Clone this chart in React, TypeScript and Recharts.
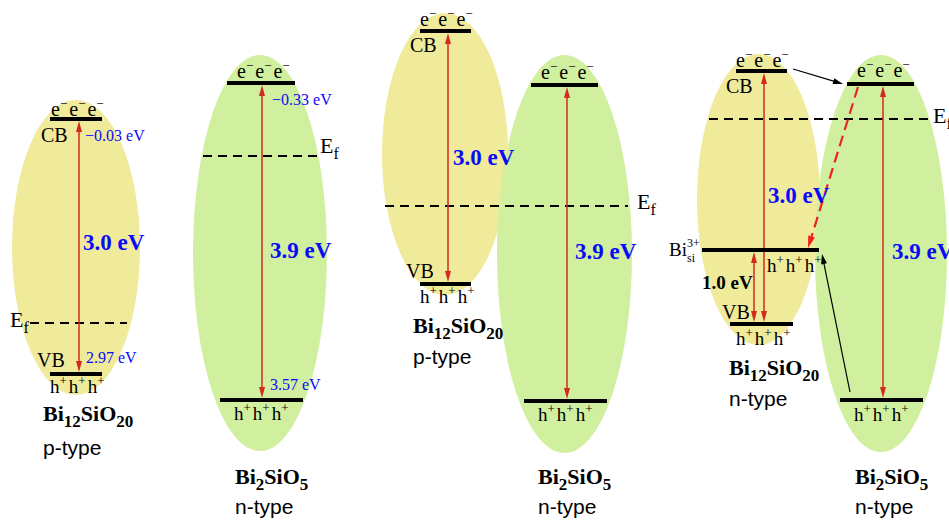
import React from 'react';
import { ComposedChart, XAxis, YAxis, ReferenceArea, ReferenceLine, Scatter } from 'recharts';

const W = 949;
const H = 520;

// Diagram coordinate system: x across the figure, y downward (energy axis).
// Band regions (ellipses) of each semiconductor
const bandRegions = [
  { x1: 12, x2: 140, y1: 100, y2: 395, material: 'BSO' },
  { x1: 193, x2: 327, y1: 55, y2: 451, material: 'BS' },
  { x1: 382, x2: 508, y1: 13, y2: 295, material: 'BSO' },
  { x1: 497, x2: 632, y1: 55, y2: 453, material: 'BS' },
  { x1: 697, x2: 820, y1: 54, y2: 345, material: 'BSO' },
  { x1: 815, x2: 947, y1: 55, y2: 452, material: 'BS' },
];

// CB / VB / defect energy levels
const bandLevels = [
  { x1: 50, x2: 102, y: 119 },
  { x1: 50, x2: 102, y: 374 },
  { x1: 227, x2: 295, y: 83 },
  { x1: 220, x2: 303, y: 400 },
  { x1: 420, x2: 471, y: 31 },
  { x1: 420, x2: 471, y: 284 },
  { x1: 531, x2: 598, y: 85 },
  { x1: 524, x2: 607, y: 401 },
  { x1: 736, x2: 787, y: 71 },
  { x1: 702, x2: 819, y: 250 },
  { x1: 730, x2: 793, y: 324 },
  { x1: 847, x2: 914, y: 84 },
  { x1: 840, x2: 923, y: 400 },
];

// Fermi levels
const fermiLevels = [
  { x1: 30, x2: 127, y: 323 },
  { x1: 203, x2: 318, y: 156 },
  { x1: 385, x2: 628, y: 206 },
  { x1: 709, x2: 932, y: 119 },
];

// Band-gap arrows (double headed)
const gapArrows = [
  { x: 79, y1: 121, y2: 372 },
  { x: 262, y1: 85, y2: 398 },
  { x: 448, y1: 33, y2: 282 },
  { x: 567, y1: 87, y2: 399 },
  { x: 764, y1: 73, y2: 322 },
  { x: 754, y1: 252, y2: 322 },
  { x: 883, y1: 86, y2: 398 },
];

// Charge transfer arrows (single headed)
const transferArrows = [
  { x1: 793, y1: 69, x2: 843, y2: 84, kind: 'electron' },
  { x1: 850, y1: 392, x2: 822, y2: 254, kind: 'electron' },
  { x1: 858, y1: 87, x2: 808, y2: 248, kind: 'recombination' },
];

// Text labels
const carrierLabels = [
  { x: 51, y: 116, text: 'e−e−e−' },
  { x: 237, y: 78, text: 'e−e−e−' },
  { x: 420, y: 26, text: 'e−e−e−' },
  { x: 541, y: 79, text: 'e−e−e−' },
  { x: 736, y: 67, text: 'e−e−e−' },
  { x: 857, y: 77, text: 'e−e−e−' },
  { x: 50, y: 393, text: 'h+h+h+' },
  { x: 234, y: 420, text: 'h+h+h+' },
  { x: 420, y: 303, text: 'h+h+h+' },
  { x: 538, y: 421, text: 'h+h+h+' },
  { x: 767, y: 272, text: 'h+h+h+' },
  { x: 736, y: 345, text: 'h+h+h+' },
  { x: 854, y: 421, text: 'h+h+h+' },
];

const bandNameLabels = [
  { x: 41, y: 142, text: 'CB' },
  { x: 37, y: 367, text: 'VB' },
  { x: 410, y: 52, text: 'CB' },
  { x: 406, y: 278, text: 'VB' },
  { x: 726, y: 93, text: 'CB' },
  { x: 722, y: 319, text: 'VB' },
];

const edgeValueLabels = [
  { x: 85, y: 141, text: '−0.03 eV' },
  { x: 86, y: 363, text: '2.97 eV' },
  { x: 272, y: 105, text: '−0.33 eV' },
  { x: 270, y: 390, text: '3.57 eV' },
];

const gapLabels = [
  { x: 83, y: 250, text: '3.0 eV', color: 'blue' },
  { x: 270, y: 258, text: '3.9 eV', color: 'blue' },
  { x: 453, y: 165, text: '3.0 eV', color: 'blue' },
  { x: 575, y: 259, text: '3.9 eV', color: 'blue' },
  { x: 768, y: 203, text: '3.0 eV', color: 'blue' },
  { x: 892, y: 259, text: '3.9 eV', color: 'blue' },
  { x: 702, y: 289, text: '1.0 eV', color: 'black' },
];

const fermiLabels = [
  { x: 10, y: 327 },
  { x: 320, y: 153 },
  { x: 637, y: 209 },
  { x: 933, y: 123 },
];

const materialLabels = [
  { x: 43, y: 421, text: 'Bi12SiO20' },
  { x: 235, y: 484, text: 'Bi2SiO5' },
  { x: 413, y: 333, text: 'Bi12SiO20' },
  { x: 538, y: 484, text: 'Bi2SiO5' },
  { x: 729, y: 375, text: 'Bi12SiO20' },
  { x: 855, y: 484, text: 'Bi2SiO5' },
];

const typeLabels = [
  { x: 43, y: 455, text: 'p-type' },
  { x: 235, y: 514, text: 'n-type' },
  { x: 413, y: 364, text: 'p-type' },
  { x: 538, y: 514, text: 'n-type' },
  { x: 729, y: 406, text: 'n-type' },
  { x: 855, y: 514, text: 'n-type' },
];

const defectLabels = [{ x: 669, y: 256, base: 'Bi', sup: '3+', sub: 'si' }];

// ---------- styles ----------
const SERIF = '"Liberation Serif", "Times New Roman", serif';
const SANS = '"Liberation Sans", Arial, sans-serif';
const FILL = { BSO: '#f0ea9b', BS: '#d0f09f' } as Record<string, string>;
const RED = '#d32a1e';
const DASH_RED = '#ee2222';
const BLUE = '#0a0af8';

type Run = { t: string; size: number; shift?: number; dx?: number };

function RunText(props: { x: number; y: number; runs: Run[]; fill?: string; weight?: string | number; family?: string }) {
  let cur = 0;
  return (
    <text x={props.x} y={props.y} fill={props.fill || '#000'} fontFamily={props.family || SERIF} fontWeight={props.weight || 'normal'}>
      {props.runs.map((r, i) => {
        const s = r.shift || 0;
        const dy = s - cur;
        cur = s;
        return (
          <tspan key={i} fontSize={r.size} dy={dy || undefined} dx={r.dx || undefined}>
            {r.t}
          </tspan>
        );
      })}
    </text>
  );
}

function carrierRuns(s: string): Run[] {
  const out: Run[] = [];
  const chars = Array.from(s);
  chars.forEach((c, i) => {
    if (c === '−' || c === '+') out.push({ t: c, size: 13, shift: -8 });
    else out.push({ t: c, size: c === 'e' ? 20 : 19, shift: 0, dx: i > 0 ? 2 : 0 });
  });
  return out;
}

function formulaRuns(s: string): Run[] {
  return s
    .split(/(\d+)/)
    .filter((p) => p.length > 0)
    .map((p) => (/^\d+$/.test(p) ? { t: p, size: 17, shift: 6 } : { t: p, size: 22, shift: 0 }));
}

const pt = (p: any) => ({ cx: p.cx as number, cy: p.cy as number, d: (p.payload || p) as any });

function arrowHead(tx: number, ty: number, fx: number, fy: number, len: number, half: number, color: string, key: string) {
  const dx = tx - fx;
  const dy = ty - fy;
  const d = Math.hypot(dx, dy) || 1;
  const ux = dx / d;
  const uy = dy / d;
  const bx = tx - ux * len;
  const by = ty - uy * len;
  const px = -uy * half;
  const py = ux * half;
  return <polygon key={key} points={`${tx},${ty} ${bx + px},${by + py} ${bx - px},${by - py}`} fill={color} />;
}

function makeArrowShape(opts: { both: boolean; color: string; width: number; dash?: string; len: number; half: number }) {
  return (p: any) => {
    const { x1, y1, x2, y2 } = p;
    const d = Math.hypot(x2 - x1, y2 - y1) || 1;
    const ux = (x2 - x1) / d;
    const uy = (y2 - y1) / d;
    const sx = opts.both ? x1 + ux * (opts.len - 1) : x1;
    const sy = opts.both ? y1 + uy * (opts.len - 1) : y1;
    const ex = x2 - ux * (opts.len - 1);
    const ey = y2 - uy * (opts.len - 1);
    return (
      <g>
        <line x1={sx} y1={sy} x2={ex} y2={ey} stroke={opts.color} strokeWidth={opts.width} strokeDasharray={opts.dash} />
        {arrowHead(x2, y2, x1, y1, opts.len, opts.half, opts.color, 'e')}
        {opts.both ? arrowHead(x1, y1, x2, y2, opts.len, opts.half, opts.color, 's') : null}
      </g>
    );
  };
}

const ellipseShape = (fill: string) => (p: any) => (
  <ellipse cx={p.x + p.width / 2} cy={p.y + p.height / 2} rx={p.width / 2} ry={p.height / 2} fill={fill} stroke="none" />
);

const gapArrowShape = makeArrowShape({ both: true, color: RED, width: 1.5, len: 11, half: 3 });
const electronArrowShape = makeArrowShape({ both: false, color: '#000', width: 1.2, len: 10, half: 3 });
const recombArrowShape = makeArrowShape({ both: false, color: DASH_RED, width: 2.2, dash: '11 6', len: 12, half: 3.5 });

export default function App() {
  return (
    <div style={{ position: 'absolute', left: 0, top: 0, width: W, height: H, background: '#fff' }}>
      <ComposedChart width={W} height={H} margin={{ top: 0, right: 0, bottom: 0, left: 0 }}>
        <XAxis dataKey="x" type="number" domain={[0, W]} hide allowDataOverflow />
        <YAxis dataKey="y" type="number" domain={[0, H]} reversed hide allowDataOverflow />

        {bandRegions.map((r, i) => (
          <ReferenceArea key={'reg' + i} x1={r.x1} x2={r.x2} y1={r.y1} y2={r.y2} ifOverflow="visible" shape={ellipseShape(FILL[r.material])} />
        ))}

        {fermiLevels.map((f, i) => (
          <ReferenceLine
            key={'ef' + i}
            segment={[{ x: f.x1, y: f.y }, { x: f.x2, y: f.y }]}
            stroke="#000"
            strokeWidth={2}
            strokeDasharray="9 6"
            ifOverflow="visible"
          />
        ))}

        {gapArrows.map((a, i) => (
          <ReferenceLine key={'ga' + i} segment={[{ x: a.x, y: a.y1 }, { x: a.x, y: a.y2 }]} ifOverflow="visible" shape={gapArrowShape} />
        ))}

        {bandLevels.map((l, i) => (
          <ReferenceLine key={'lv' + i} segment={[{ x: l.x1, y: l.y }, { x: l.x2, y: l.y }]} stroke="#000" strokeWidth={4} ifOverflow="visible" />
        ))}

        {transferArrows.map((a, i) => (
          <ReferenceLine
            key={'ta' + i}
            segment={[{ x: a.x1, y: a.y1 }, { x: a.x2, y: a.y2 }]}
            ifOverflow="visible"
            shape={a.kind === 'electron' ? electronArrowShape : recombArrowShape}
          />
        ))}

        <Scatter
          data={carrierLabels}
          isAnimationActive={false}
          shape={(p: any) => {
            const { cx, cy, d } = pt(p);
            return <RunText x={cx} y={cy} runs={carrierRuns(d.text)} />;
          }}
        />
        <Scatter
          data={bandNameLabels}
          isAnimationActive={false}
          shape={(p: any) => {
            const { cx, cy, d } = pt(p);
            return (
              <text x={cx} y={cy} fontFamily={SERIF} fontSize={20} fill="#000">
                {d.text}
              </text>
            );
          }}
        />
        <Scatter
          data={edgeValueLabels}
          isAnimationActive={false}
          shape={(p: any) => {
            const { cx, cy, d } = pt(p);
            return (
              <text x={cx} y={cy} fontFamily={SERIF} fontSize={16} fill={BLUE}>
                {d.text}
              </text>
            );
          }}
        />
        <Scatter
          data={gapLabels}
          isAnimationActive={false}
          shape={(p: any) => {
            const { cx, cy, d } = pt(p);
            const blue = d.color === 'blue';
            return (
              <text x={cx} y={cy} fontFamily={SERIF} fontWeight="bold" fontSize={blue ? 23 : 19} fill={blue ? BLUE : '#000'}>
                {d.text}
              </text>
            );
          }}
        />
        <Scatter
          data={fermiLabels}
          isAnimationActive={false}
          shape={(p: any) => {
            const { cx, cy } = pt(p);
            return <RunText x={cx} y={cy} runs={[{ t: 'E', size: 22 }, { t: 'f', size: 16, shift: 6 }]} />;
          }}
        />
        <Scatter
          data={materialLabels}
          isAnimationActive={false}
          shape={(p: any) => {
            const { cx, cy, d } = pt(p);
            return <RunText x={cx} y={cy} runs={formulaRuns(d.text)} weight="bold" />;
          }}
        />
        <Scatter
          data={typeLabels}
          isAnimationActive={false}
          shape={(p: any) => {
            const { cx, cy, d } = pt(p);
            return (
              <text x={cx} y={cy} fontFamily={SANS} fontSize={21} fill="#000">
                {d.text}
              </text>
            );
          }}
        />
        <Scatter
          data={defectLabels}
          isAnimationActive={false}
          shape={(p: any) => {
            const { cx, cy, d } = pt(p);
            return (
              <g fontFamily={SERIF} fill="#000">
                <text x={cx} y={cy} fontSize={19}>
                  {d.base}
                </text>
                <text x={cx + 18} y={cy - 9} fontSize={12}>
                  {d.sup}
                </text>
                <text x={cx + 18} y={cy + 6} fontSize={12}>
                  {d.sub}
                </text>
              </g>
            );
          }}
        />
      </ComposedChart>
    </div>
  );
}
